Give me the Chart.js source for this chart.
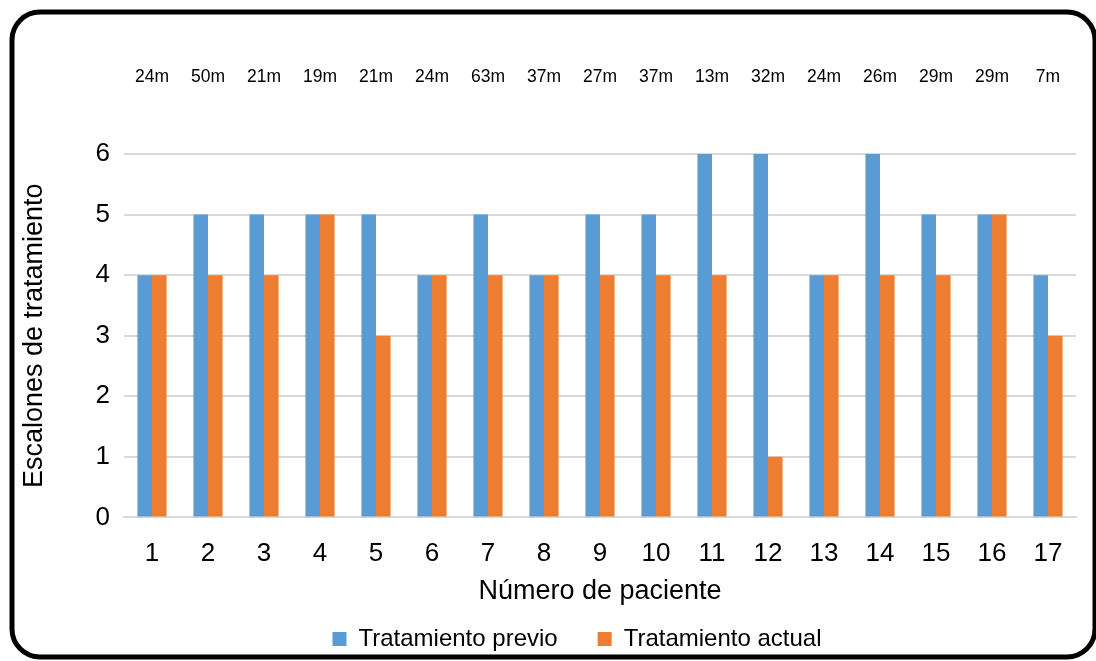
<!DOCTYPE html>
<html>
<head>
<meta charset="utf-8">
<script src="https://cdn.jsdelivr.net/npm/chart.js@4/dist/chart.umd.min.js"></script>
<style>
  html, body { margin: 0; padding: 0; background: #fff; }
  #wrap { position: absolute; left: 0; top: 0; width: 1096px; height: 661px; }
</style>
</head>
<body>
<div id="wrap"><canvas id="c" width="1096" height="661"></canvas></div>
<script>
const categories = ['1','2','3','4','5','6','7','8','9','10','11','12','13','14','15','16','17'];
const previo = [4,5,5,5,5,4,5,4,5,5,6,6,4,6,5,5,4];
const actual = [4,4,4,5,3,4,4,4,4,4,4,1,4,4,4,5,3];
const durations = ['24m','50m','21m','19m','21m','24m','63m','37m','27m','37m','13m','32m','24m','26m','29m','29m','7m'];
const yTicks = [0,1,2,3,4,5,6];

const FONT = 'Liberation Sans, Arial, sans-serif';

// Rounded frame around the whole figure
const framePlugin = {
  id: 'frame',
  beforeDraw(chart) {
    const ctx = chart.ctx;
    ctx.save();
    ctx.fillStyle = '#fff';
    ctx.fillRect(0, 0, chart.width, chart.height);
    ctx.restore();
  },
  afterDraw(chart) {
    const ctx = chart.ctx;
    ctx.save();
    ctx.lineWidth = 5;
    ctx.strokeStyle = '#000';
    ctx.beginPath();
    ctx.roundRect(12, 12, 1083, 645, 28);
    ctx.stroke();
    ctx.restore();
  }
};

// Follow-up duration written above each patient
const durationPlugin = {
  id: 'durations',
  afterDatasetsDraw(chart) {
    const ctx = chart.ctx;
    const xs = chart.scales.x;
    ctx.save();
    ctx.font = '17.5px ' + FONT;
    ctx.fillStyle = '#000';
    ctx.textAlign = 'center';
    ctx.textBaseline = 'middle';
    durations.forEach((d, i) => {
      ctx.fillText(d, xs.getPixelForValue(i), 77);
    });
    ctx.restore();
  }
};

// Nudge the legend row to the right
const legendShift = {
  id: 'legendShift',
  afterLayout(chart) {
    if (chart.legend) {
      chart.legend.left += 30;
      chart.legend.right += 30;
    }
  }
};

new Chart(document.getElementById('c'), {
  type: 'bar',
  data: {
    labels: categories,
    datasets: [
      { label: 'Tratamiento previo', data: previo, backgroundColor: '#5B9BD5', borderWidth: 0 },
      { label: 'Tratamiento actual', data: actual, backgroundColor: '#ED7D31', borderWidth: 0 }
    ]
  },
  options: {
    responsive: false,
    animation: false,
    devicePixelRatio: 1,
    datasets: { bar: { categoryPercentage: 0.52, barPercentage: 1.0 } },
    layout: { padding: { left: 18, right: 20, top: 154, bottom: 0 } },
    plugins: {
      legend: {
        position: 'bottom',
        labels: {
          font: { family: FONT, size: 24 },
          color: '#000',
          boxWidth: 14,
          boxHeight: 14,
          padding: 40
        }
      },
      tooltip: { enabled: false }
    },
    scales: {
      x: {
        grid: { display: false, drawTicks: false },
        border: { display: true, color: '#d9d9d9', width: 2 },
        ticks: { font: { family: FONT, size: 26 }, color: '#000', padding: 21 },
        title: { display: true, text: 'Número de paciente', font: { family: FONT, size: 27 }, color: '#000', padding: { top: -15, bottom: -21 } }
      },
      y: {
        min: 0, max: 6,
        afterBuildTicks(scale) { scale.ticks = yTicks.map(v => ({ value: v })); },
        afterFit(scale) { scale.width = 106; },
        grid: { color: '#d9d9d9', lineWidth: 2, drawTicks: false },
        border: { display: false },
        ticks: { font: { family: FONT, size: 26 }, color: '#000', padding: 14 },
        title: { display: true, text: 'Escalones de tratamiento', font: { family: FONT, size: 27 }, color: '#000', padding: { top: 0, bottom: 0 } }
      }
    }
  },
  plugins: [framePlugin, durationPlugin, legendShift]
});
</script>
</body>
</html>
